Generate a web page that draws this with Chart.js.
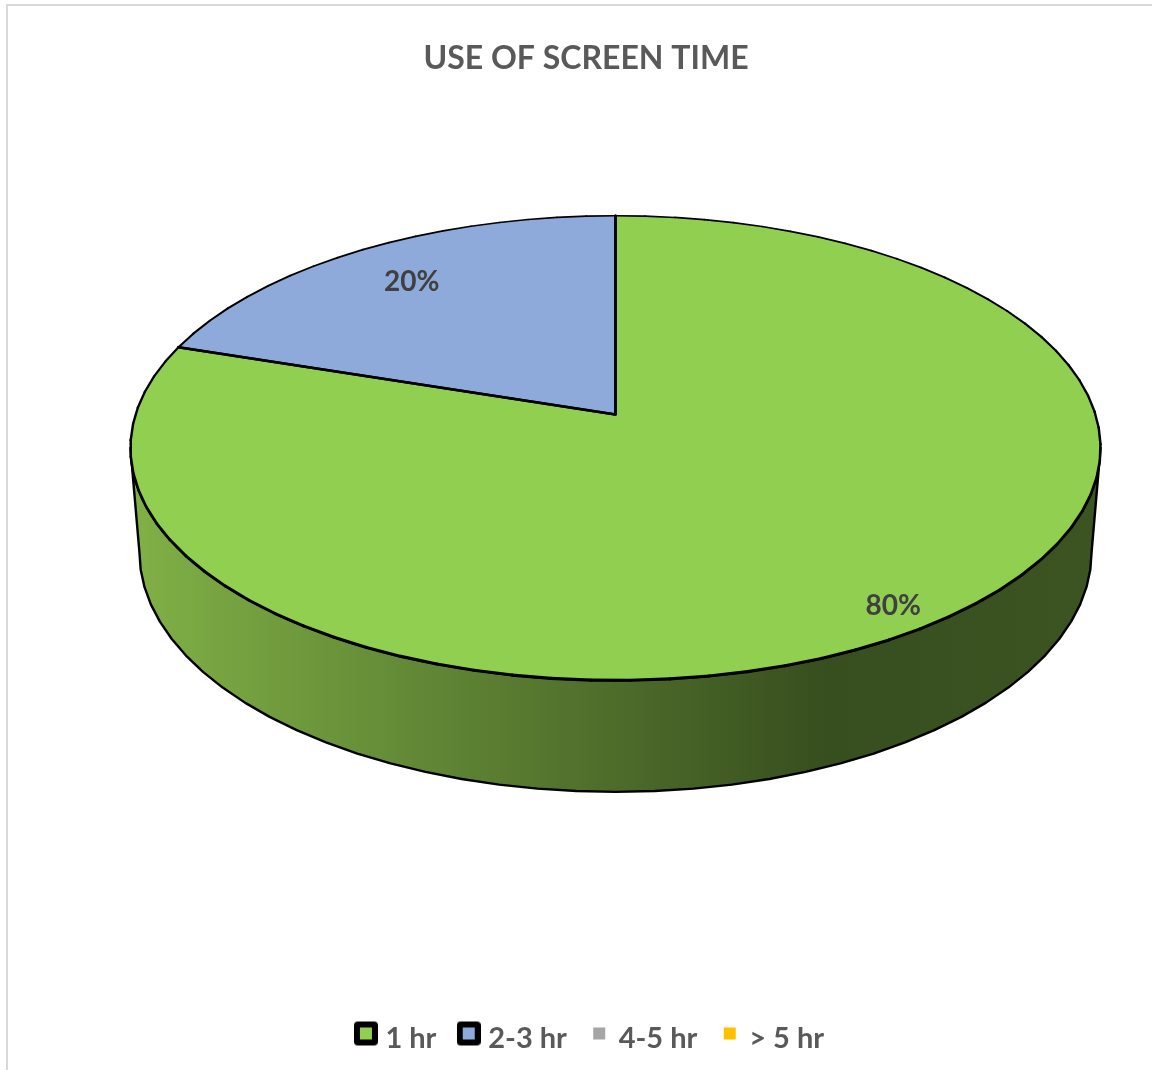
<!DOCTYPE html>
<html>
<head>
<meta charset="utf-8">
<title>Use of screen time</title>
<script src="https://cdn.jsdelivr.net/npm/chart.js@4"></script>
<style>
    html, body { margin: 0; padding: 0; background: #fff; overflow: hidden; }
    #frame {
        position: absolute; left: 6px; top: 4px;
        width: 1146px; height: 1066px; overflow: hidden;
        border-left: 2px solid #d9d9d9; border-top: 2px solid #d9d9d9;
    }
</style>
</head>
<body>
<div id="frame"><canvas id="myChart" width="1156" height="1057"></canvas></div>
<script>
const categories = ["1 hr", "2-3 hr", "4-5 hr", "> 5 hr"];
const shares = [80, 20, 0, 0];
const sliceColors = ["#91cf50", "#8eaadb", "#a5a5a5", "#ffc000"];

const FONT = "Lato, Carlito, sans-serif";
const TEXT_GREY = "#595959";

// legend marker: outlined for the slices on show, plain for the empty ones
function legendIcon(color, outlined) {
    const c = document.createElement("canvas");
    c.width = 24;
    c.height = 38;
    const g = c.getContext("2d");
    if (outlined) {
        g.fillStyle = "#000";
        g.beginPath();
        g.roundRect(0, 2, 24, 24, 4);
        g.fill();
    }
    g.fillStyle = color;
    g.fillRect(6, 8, 12, 12);
    return c;
}

// tilted pie: arc angles come from the pie controller, this only projects them
const tiltedPie = {
    id: "tiltedPie",
    afterLayout(chart, args, opts) {
        chart.legend.left += opts.legendShift;
        chart.legend.right += opts.legendShift;
    },
    beforeDatasetsDraw(chart, args, opts) {
        const ctx = chart.ctx;
        const arcs = chart.getDatasetMeta(0).data;
        const first = arcs[0];
        const cx = first.x + opts.shiftX;
        const cy = first.y + opts.shiftY;
        const A = first.outerRadius;
        const B = A * opts.squash;
        const p = opts.perspective;

        const point = (a, f, sx, sy, drop) => {
            const u = Math.cos(a) * f, v = Math.sin(a) * f;
            const w = 1 - p * v;
            return [cx + A * sx * u / w, cy + drop + B * sy * v / w];
        };
        const angles = (from, to) => {
            const steps = Math.max(2, Math.ceil(Math.abs(to - from) * 14));
            const list = [];
            for (let i = 0; i <= steps; i++) list.push(from + (to - from) * i / steps);
            return list;
        };
        const trace = (from, to, sx, sy, drop) => {
            angles(from, to).forEach(a => {
                const pt = point(a, 1, sx, sy, drop);
                ctx.lineTo(pt[0], pt[1]);
            });
        };

        ctx.save();
        ctx.lineJoin = "round";
        ctx.lineCap = "round";
        ctx.strokeStyle = "#000";

        // side wall, only the part facing the viewer
        const frontFrom = Math.asin(p);
        const frontTo = Math.PI - frontFrom;
        arcs.forEach(arc => {
            const lo = Math.max(arc.startAngle, frontFrom);
            const hi = Math.min(arc.endAngle, frontTo);
            if (hi <= lo) return;
            const shade = ctx.createLinearGradient(cx - A, 0, cx + A, 0);
            shade.addColorStop(0, "#80b046");
            shade.addColorStop(0.72, "#374e1e");
            shade.addColorStop(1, "#3c5322");
            ctx.beginPath();
            trace(lo, hi, 1, 1, 0);
            trace(hi, lo, opts.baseX, opts.baseY, opts.depth);
            ctx.closePath();
            ctx.fillStyle = shade;
            ctx.fill();
            ctx.lineWidth = 2.4;
            ctx.stroke();
        });

        // top face
        arcs.forEach((arc, i) => {
            if (arc.circumference <= 0) return;
            ctx.beginPath();
            ctx.moveTo(cx, cy);
            trace(arc.startAngle, arc.endAngle, 1, 1, 0);
            ctx.closePath();
            ctx.fillStyle = sliceColors[i];
            ctx.fill();
        });
        arcs.forEach(arc => {
            if (arc.circumference <= 0) return;
            // straight edges
            const a = point(arc.startAngle, 1, 1, 1, 0);
            const b = point(arc.endAngle, 1, 1, 1, 0);
            ctx.beginPath();
            ctx.moveTo(a[0], a[1]);
            ctx.lineTo(cx, cy);
            ctx.lineTo(b[0], b[1]);
            ctx.lineWidth = 2.6;
            ctx.stroke();
            // rim gets lighter towards the back
            const list = angles(arc.startAngle, arc.endAngle);
            for (let k = 1; k < list.length; k++) {
                const from = point(list[k - 1], 1, 1, 1, 0);
                const to = point(list[k], 1, 1, 1, 0);
                ctx.beginPath();
                ctx.moveTo(from[0], from[1]);
                ctx.lineTo(to[0], to[1]);
                ctx.lineWidth = 2.4 + 0.8 * Math.sin((list[k - 1] + list[k]) / 2);
                ctx.stroke();
            }
        });

        // percentage labels
        const total = shares.reduce((a, b) => a + b, 0);
        ctx.font = "bold 28px " + FONT;
        ctx.fillStyle = "#404040";
        ctx.textAlign = "center";
        ctx.textBaseline = "middle";
        arcs.forEach((arc, i) => {
            if (shares[i] <= 0) return;
            const mid = (arc.startAngle + arc.endAngle) / 2;
            const place = opts.labels[i];
            const pt = point(mid, place.radial, 1, 1, 0);
            ctx.fillText(Math.round(shares[i] / total * 100) + "%", pt[0], pt[1] + place.nudge);
        });
        ctx.restore();
        return false;
    }
};

const ctx = document.getElementById("myChart").getContext("2d");

const myChart = new Chart(ctx, {
    type: "pie",
    data: {
        labels: categories,
        datasets: [
            {
                data: shares,
                backgroundColor: sliceColors,
                radius: 480
            }
        ]
    },
    options: {
        responsive: false,
        animation: false,
        events: [],
        plugins: {
            title: {
                display: true,
                text: "USE OF SCREEN TIME",
                color: TEXT_GREY,
                font: { family: FONT, size: 32, weight: "bold" },
                padding: { top: 33, bottom: 10 }
            },
            legend: {
                position: "bottom",
                labels: {
                    color: TEXT_GREY,
                    font: { family: FONT, size: 29, weight: "bold" },
                    usePointStyle: true,
                    boxWidth: 10,
                    padding: 27.3,
                    generateLabels: chart => chart.data.labels.map((text, i) => ({
                        text,
                        index: i,
                        fontColor: TEXT_GREY,
                        pointStyle: legendIcon(sliceColors[i], shares[i] > 0)
                    }))
                }
            },
            tooltip: { enabled: false },
            tiltedPie: {
                legendShift: 6.5,
                shiftX: 29.5,
                shiftY: -127.5,
                squash: 0.474,
                perspective: 0.1441,
                depth: 103,
                baseX: 0.9815,
                baseY: 1.032,
                labels: [
                    { radial: 0.883, nudge: 10 },
                    { radial: 0.789, nudge: 0 },
                    { radial: 0.8, nudge: 0 },
                    { radial: 0.8, nudge: 0 }
                ]
            }
        }
    },
    plugins: [tiltedPie]
});
</script>
</body>
</html>
